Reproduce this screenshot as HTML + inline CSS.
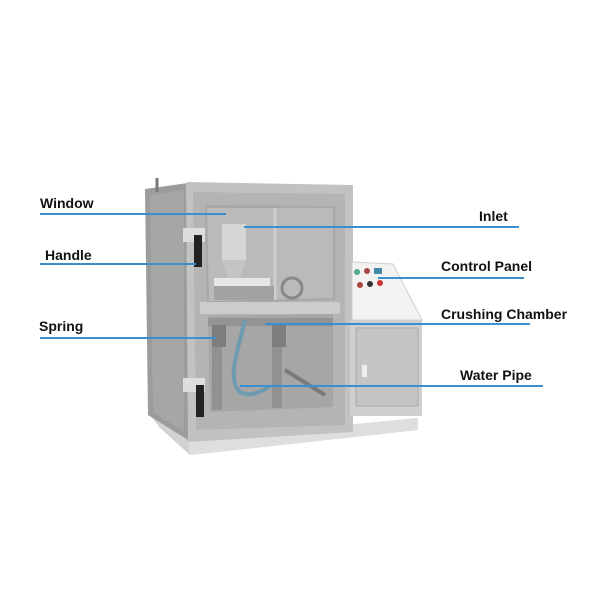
<!DOCTYPE html>
<html><head><meta charset="utf-8"><style>
html,body{margin:0;padding:0;background:#fff;}
svg{display:block}
text{font-family:"Liberation Sans",sans-serif;font-weight:bold;font-size:14px;fill:#111}
</style></head><body>
<svg width="600" height="600" viewBox="0 0 600 600">
<polygon points="150,415 188,440 418,418 418,430 190,455 160,428" fill="#d2d2d2"/>
<polygon points="188,440 418,418 418,430 190,455" fill="#dedede"/>
<polygon points="145,189 188,183 188,440 148,415" fill="#9c9c9c"/>
<polygon points="150,195 184,190 184,432 153,412" fill="#a6a6a6"/>
<line x1="157" y1="178" x2="157" y2="192" stroke="#777" stroke-width="3"/>
<polygon points="186,182 353,185 353,432 188,442" fill="#c2c2c2"/>
<polygon points="193,192 345,194 345,425 196,430" fill="#b4b4b4"/>
<polygon points="205,205 335,206 335,300 207,304" fill="#a8a8a8"/>
<polygon points="207,208 333,208 333,298 209,301" fill="#bababa"/>
<line x1="275" y1="208" x2="275" y2="300" stroke="#cfcfcf" stroke-width="3"/>
<rect x="222" y="224" width="24" height="36" fill="#d6d6d6"/>
<polygon points="222,260 246,260 240,278 228,278" fill="#c4c4c4"/>
<rect x="214" y="278" width="56" height="8" fill="#e6e6e6"/>
<rect x="214" y="286" width="60" height="14" fill="#a2a2a2"/>
<ellipse cx="292" cy="288" rx="10" ry="10" fill="none" stroke="#888" stroke-width="3"/>
<rect x="200" y="302" width="140" height="12" fill="#cccccc"/>
<polygon points="208,316 333,314 333,407 210,412" fill="#a6a6a6"/>
<rect x="212" y="320" width="10" height="90" fill="#919191"/>
<rect x="272" y="320" width="10" height="88" fill="#919191"/>
<rect x="208" y="318" width="125" height="8" fill="#939393"/>
<rect x="212" y="325" width="14" height="22" fill="#7e7e7e"/>
<rect x="272" y="325" width="14" height="22" fill="#7e7e7e"/>
<path d="M245,320 C235,360 228,380 240,392 C250,398 265,390 270,386" fill="none" stroke="#6f9bb0" stroke-width="4"/>
<line x1="285" y1="370" x2="325" y2="395" stroke="#7a7a7a" stroke-width="4"/>
<rect x="183" y="228" width="22" height="14" fill="#ddd"/>
<rect x="194" y="235" width="8" height="32" fill="#222"/>
<rect x="183" y="378" width="22" height="14" fill="#ddd"/>
<rect x="196" y="385" width="8" height="32" fill="#222"/>
<polygon points="352,262 393,264 422,320 352,320" fill="#f2f2f2" stroke="#d0d0d0"/>
<circle cx="357" cy="272" r="3" fill="#5a8"/><circle cx="367" cy="271" r="3" fill="#a44"/>
<rect x="374" y="268" width="8" height="6" fill="#48a"/>
<circle cx="360" cy="285" r="3" fill="#a44"/><circle cx="370" cy="284" r="3" fill="#333"/><circle cx="380" cy="283" r="3" fill="#c33"/>
<rect x="350" y="320" width="72" height="96" fill="#cfcfcf"/>
<rect x="356" y="328" width="62" height="78" fill="#c4c4c4" stroke="#aaa"/>
<rect x="362" y="365" width="5" height="12" fill="#eee"/>
<g stroke="#3a8fd0" stroke-width="2">
<line x1="40" y1="214" x2="226" y2="214"/>
<line x1="40" y1="264" x2="196" y2="264"/>
<line x1="40" y1="338" x2="216" y2="338"/>
<line x1="244" y1="227" x2="519" y2="227"/>
<line x1="378" y1="278" x2="524" y2="278"/>
<line x1="265" y1="324" x2="530" y2="324"/>
<line x1="240" y1="386" x2="543" y2="386"/>
</g>
<text x="40" y="208">Window</text>
<text x="45" y="260">Handle</text>
<text x="39" y="331">Spring</text>
<text x="479" y="221">Inlet</text>
<text x="441" y="271">Control Panel</text>
<text x="441" y="319">Crushing Chamber</text>
<text x="460" y="380">Water Pipe</text>
</svg>
</body></html>
